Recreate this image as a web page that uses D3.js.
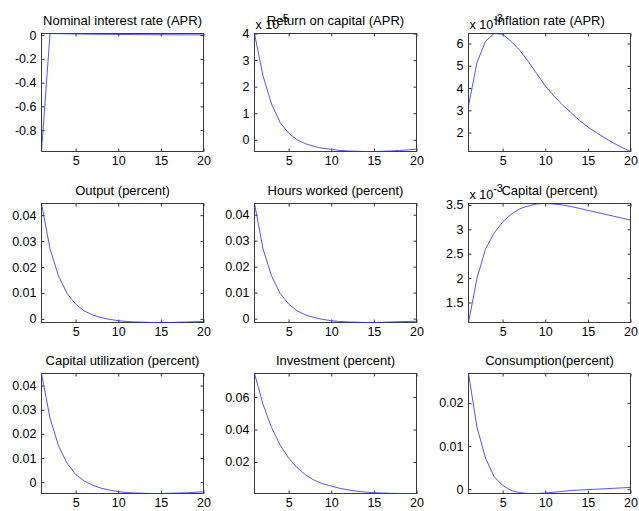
<!DOCTYPE html>
<html>
<head>
<meta charset="utf-8">
<script src="https://cdn.jsdelivr.net/npm/d3@7"></script>
<style>
body { margin: 0; background: #fff; }
text { font-family: "Liberation Sans", Arial, sans-serif; font-size: 12.5px; fill: #000; }
</style>
</head>
<body>
<svg width="639" height="511"></svg>
<script>

// quarters after the shock
let periods = [1, 2, 3, 4, 5, 6, 7, 8, 9, 10, 11, 12, 13, 14, 15, 16, 17, 18, 19, 20]
let xTicks = [5, 10, 15, 20]

// impulse responses
let nominalRate = [-0.98, 0.0135, 0.012, 0.011, 0.0098, 0.0088, 0.0078, 0.007, 0.0062, 0.0055,
  0.0049, 0.0043, 0.0038, 0.0034, 0.003, 0.0027, 0.0024, 0.0021, 0.0019, 0.0017]
let returnOnCapital = [4.0, 2.4, 1.35, 0.65, 0.25, 0.0, -0.15, -0.25, -0.32, -0.36,
  -0.4, -0.42, -0.43, -0.44, -0.44, -0.43, -0.42, -0.4, -0.38, -0.35]   // x 1e-5
let inflation = [3.2, 5.15, 6.1, 6.45, 6.42, 6.1, 5.7, 5.2, 4.65, 4.1,
  3.65, 3.25, 2.9, 2.55, 2.25, 2.0, 1.76, 1.53, 1.33, 1.15]            // x 1e-3
let output = [0.0445, 0.027, 0.0165, 0.0098, 0.0057, 0.0031, 0.0015, 0.0005, -0.0002, -0.0007,
  -0.001, -0.0012, -0.0013, -0.0014, -0.0014, -0.0014, -0.0013, -0.0012, -0.0011, -0.001]
let hours = [0.0443, 0.0268, 0.0164, 0.0097, 0.0056, 0.003, 0.0014, 0.0004, -0.0003, -0.0008,
  -0.0011, -0.0013, -0.0014, -0.0015, -0.0015, -0.0014, -0.0013, -0.0012, -0.0011, -0.001]
let capital = [1.09, 2.0, 2.6, 2.92, 3.15, 3.31, 3.42, 3.48, 3.52, 3.53,
  3.52, 3.5, 3.47, 3.43, 3.39, 3.35, 3.31, 3.27, 3.23, 3.19]             // x 1e-3
let utilization = [0.045, 0.0265, 0.015, 0.0078, 0.0032, 0.0005, -0.0013, -0.0025, -0.0033, -0.0039,
  -0.0043, -0.0045, -0.0046, -0.0047, -0.0047, -0.0046, -0.0045, -0.0044, -0.0042, -0.004]
let investment = [0.0745, 0.0555, 0.0412, 0.0305, 0.0225, 0.0165, 0.012, 0.0088, 0.0066, 0.0052,
  0.0038, 0.0028, 0.002, 0.0015, 0.0011, 0.0009, 0.0007, 0.0006, 0.0006, 0.0006]
let consumption = [0.0268, 0.0143, 0.0072, 0.0029, 0.0009, -0.0003, -0.0008, -0.001, -0.001, -0.0009,
  -0.0007, -0.0005, -0.0003, -0.0002, -0.0001, 0.0, 0.0001, 0.0002, 0.0003, 0.0004]

let titles = ['Nominal interest rate (APR)', 'Return on capital (APR)', 'Inflation rate (APR)',
  'Output (percent)', 'Hours worked (percent)', 'Capital (percent)',
  'Capital utilization (percent)', 'Investment (percent)', 'Consumption(percent)']
let series = [nominalRate, returnOnCapital, inflation, output, hours, capital, utilization, investment, consumption]
let yTicks = [
  [-0.8, -0.6, -0.4, -0.2, 0],
  [0, 1, 2, 3, 4],
  [2, 3, 4, 5, 6],
  [0, 0.01, 0.02, 0.03, 0.04],
  [0, 0.01, 0.02, 0.03, 0.04],
  [1.5, 2, 2.5, 3, 3.5],
  [0, 0.01, 0.02, 0.03, 0.04],
  [0.02, 0.04, 0.06],
  [0, 0.01, 0.02]
]
let exponents = [null, '-5', '-3', null, null, '-3', null, null, null]

let svg = d3.select('svg')

let colLeft = [41, 254, 468]
let rowTop = [33, 203, 373]
let rowHeight = [118, 119, 120]
let width = 162

let fmt = d => String(+d.toFixed(6))

series.forEach((values, i) => {
  let col = i % 3, row = Math.floor(i / 3)
  let h = rowHeight[row]

  let g = svg.append('g')
    .attr('transform', `translate(${colLeft[col] + 0.5},${rowTop[row] + 0.5})`)

  let x = d3.scaleLinear().domain([1, 20]).range([0, width])
  let y = d3.scaleLinear().domain(d3.extent(values)).range([h, 0])

  g.append('g')
    .attr('transform', `translate(0,${h})`)
    .call(d3.axisBottom(x).tickValues(xTicks).tickSize(-3).tickPadding(5).tickFormat(fmt))
  g.append('g')
    .call(d3.axisTop(x).tickValues(xTicks).tickSize(-3).tickFormat(''))
  g.append('g')
    .call(d3.axisLeft(y).tickValues(yTicks[i]).tickSize(-3).tickPadding(5).tickFormat(fmt))
  g.append('g')
    .attr('transform', `translate(${width},0)`)
    .call(d3.axisRight(y).tickValues(yTicks[i]).tickSize(-3).tickFormat(''))

  g.selectAll('.domain').remove()
  g.selectAll('.tick line').attr('stroke', '#333')
  g.selectAll('.tick text')
    .style('font-family', '"Liberation Sans", Arial, sans-serif')
    .style('font-size', '12.5px')
    .attr('fill', '#000')

  g.append('rect')
    .attr('width', width)
    .attr('height', h)
    .attr('fill', 'none')
    .attr('stroke', '#3a3a3a')

  g.append('path')
    .datum(values)
    .attr('fill', 'none')
    .attr('stroke', '#2a2aff')
    .attr('stroke-width', 0.8)
    .attr('d', d3.line().x((d, j) => x(periods[j])).y(d => y(d)))

  // the x 10^n factor sits above the top-left corner and runs into the title, as in the original
  if (exponents[i]) {
    let t = g.append('text')
      .attr('x', 1)
      .attr('y', -5)
    t.append('tspan').text('x 10')
    t.append('tspan').attr('dy', -7).style('font-size', '11px').text(exponents[i])
  }

  g.append('text')
    .attr('x', width / 2)
    .attr('y', -9)
    .attr('text-anchor', 'middle')
    .style('font-size', '13px')
    .text(titles[i])
})

</script>
</body>
</html>
